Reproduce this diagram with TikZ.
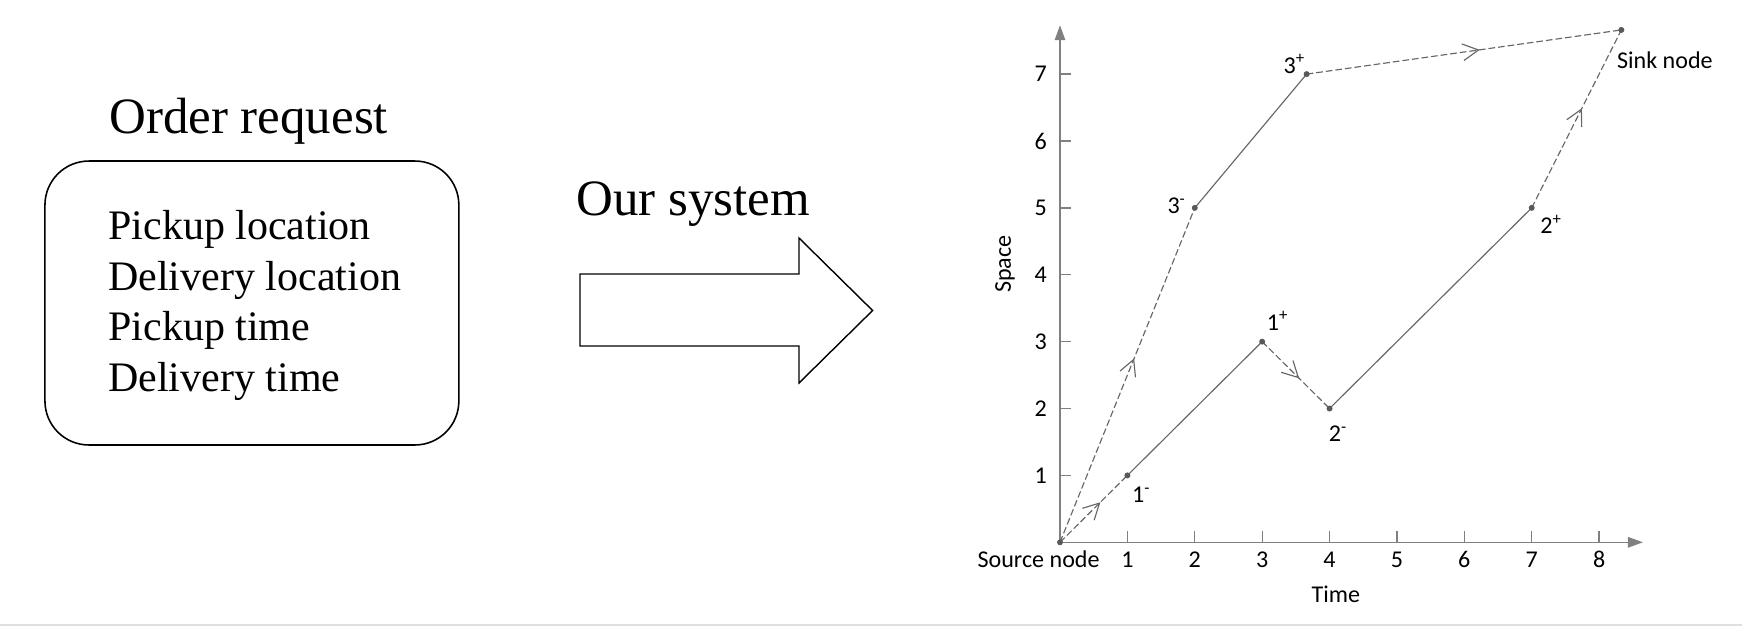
\documentclass[tikz,border=0pt]{standalone}
\usepackage{fontspec}
\setmainfont{Liberation Serif}
\newfontfamily\plotfont{Carlito}
\usetikzlibrary{arrows.meta,decorations.markings}

\definecolor{edgegray}{HTML}{666666}
\definecolor{axisgray}{HTML}{808080}
\definecolor{dotgray}{HTML}{595959}

\tikzset{
	headtext/.style={anchor=base west, inner sep=0pt, font=\fontsize{29}{34}\selectfont},
	boxtext/.style={anchor=base west, inner sep=0pt, font=\fontsize{23.9}{28.5}\selectfont},
	reqbox/.style={draw, line width=0.9pt, rounded corners=0.88cm, minimum width=8.28cm, minimum height=5.68cm},
	bigarrow/.style={draw, line width=0.8pt},
	plotlbl/.style={inner sep=0pt, font=\plotfont\fontsize{13.7}{16}\selectfont},
	axisline/.style={draw=axisgray, line width=0.75pt},
	solidedge/.style={draw=edgegray, line width=0.65pt},
	dashedge/.style={draw=edgegray, line width=0.65pt, dash pattern=on 3.8pt off 1.7pt},
	midarr/.style={postaction={decorate, solid, decoration={markings,
		mark=at position #1 with {\arrow{Straight Barb[length=9pt,width=9.5pt]}}}}}
}

\begin{document}
\begin{tikzpicture}[x=0.02cm, y=-0.02cm]
	\useasboundingbox (0,0) rectangle (1742,626);
	\fill[gray!25] (0,624) rectangle (1742,626);

	% order request
	\node[headtext] (reqtitle) at (109,133.3) {Order request};
	\node[reqbox] (req) at (251.9,303) {};
	\foreach \t [count=\i] in {Pickup location, Delivery location, Pickup time, Delivery time}
	{
		\node[boxtext] (field\i) at (108, {239.5+50.5*(\i-1)}) {\t};
	}

	% our system
	\node[headtext] (systitle) at (576,215) {Our system};
	\draw[bigarrow] (580,274) -- (799,274) -- (799,238) -- (872.6,310.5) -- (799,383) -- (799,346) -- (580,346) -- cycle;

	% time--space network
	\begin{scope}[shift={(1060,542.3)}, x=1.348cm, y=1.338cm]
		\coordinate (src) at (0,0);
		\coordinate (xend) at (8.65,0);
		\coordinate (yend) at (0,7.73);
		\coordinate (p1m) at (1,1);
		\coordinate (p1p) at (3,3);
		\coordinate (p2m) at (4,2);
		\coordinate (p2p) at (7,5);
		\coordinate (p3m) at (2,5);
		\coordinate (p3p) at (3.66,7);
		\coordinate (snk) at (8.33,7.66);

		\draw[axisline, -{Triangle[length=8.5pt,width=6pt]}] (src) -- (xend);
		\draw[axisline, -{Triangle[length=8.5pt,width=6pt]}] (src) -- (yend);
		\foreach \s in {1,...,8}
		{
			\draw[axisline] (\s,0) -- (\s,0.164);
			\node[plotlbl, anchor=base] (tx\s) at (\s,-0.37) {\s};
		}
		\foreach \s in {1,...,7}
		{
			\draw[axisline] (0,\s) -- (0.163,\s);
			\node[plotlbl, anchor=east] (ty\s) at (-0.19,\s) {\s};
		}
		\node[plotlbl, anchor=base east] (srclbl) at (0.593,-0.37) {Source node};
		\node[plotlbl, anchor=base] (timelbl) at (4.095,-0.897) {Time};
		\node[plotlbl, rotate=90] (spacelbl) at (-0.816,4.16) {Space};

		\draw[solidedge] (p1m) -- (p1p);
		\draw[solidedge] (p2m) -- (p2p);
		\draw[solidedge] (p3m) -- (p3p);
		\draw[dashedge, midarr=0.6] (src) -- (p1m);
		\draw[dashedge, midarr=0.55] (src) -- (p3m);
		\draw[dashedge, midarr=0.55] (p1p) -- (p2m);
		\draw[dashedge, midarr=0.55] (p3p) -- (snk);
		\draw[dashedge, midarr=0.56] (p2p) -- (snk);

		\foreach \p in {src,p1m,p1p,p2m,p2p,p3m,p3p,snk}
		{
			\fill[dotgray] (\p) circle (1.7pt);
		}

		\node[plotlbl, anchor=base west] (l1m) at ([shift={(0.064,-0.41)}]p1m) {1\textsuperscript{-}};
		\node[plotlbl, anchor=base west] (l1p) at ([shift={(0.064,0.173)}]p1p) {1\textsuperscript{+}};
		\node[plotlbl, anchor=base west] (l2m) at ([shift={(-0.015,-0.5)}]p2m) {2\textsuperscript{-}};
		\node[plotlbl, anchor=base west] (l2p) at ([shift={(0.123,-0.389)}]p2p) {2\textsuperscript{+}};
		\node[plotlbl, anchor=base west] (l3m) at ([shift={(-0.41,-0.084)}]p3m) {3\textsuperscript{-}};
		\node[plotlbl, anchor=base west] (l3p) at ([shift={(-0.347,0.015)}]p3p) {3\textsuperscript{+}};
		\node[plotlbl, anchor=base west] (snklbl) at ([shift={(-0.068,-0.572)}]snk) {Sink node};
	\end{scope}
\end{tikzpicture}
\end{document}
